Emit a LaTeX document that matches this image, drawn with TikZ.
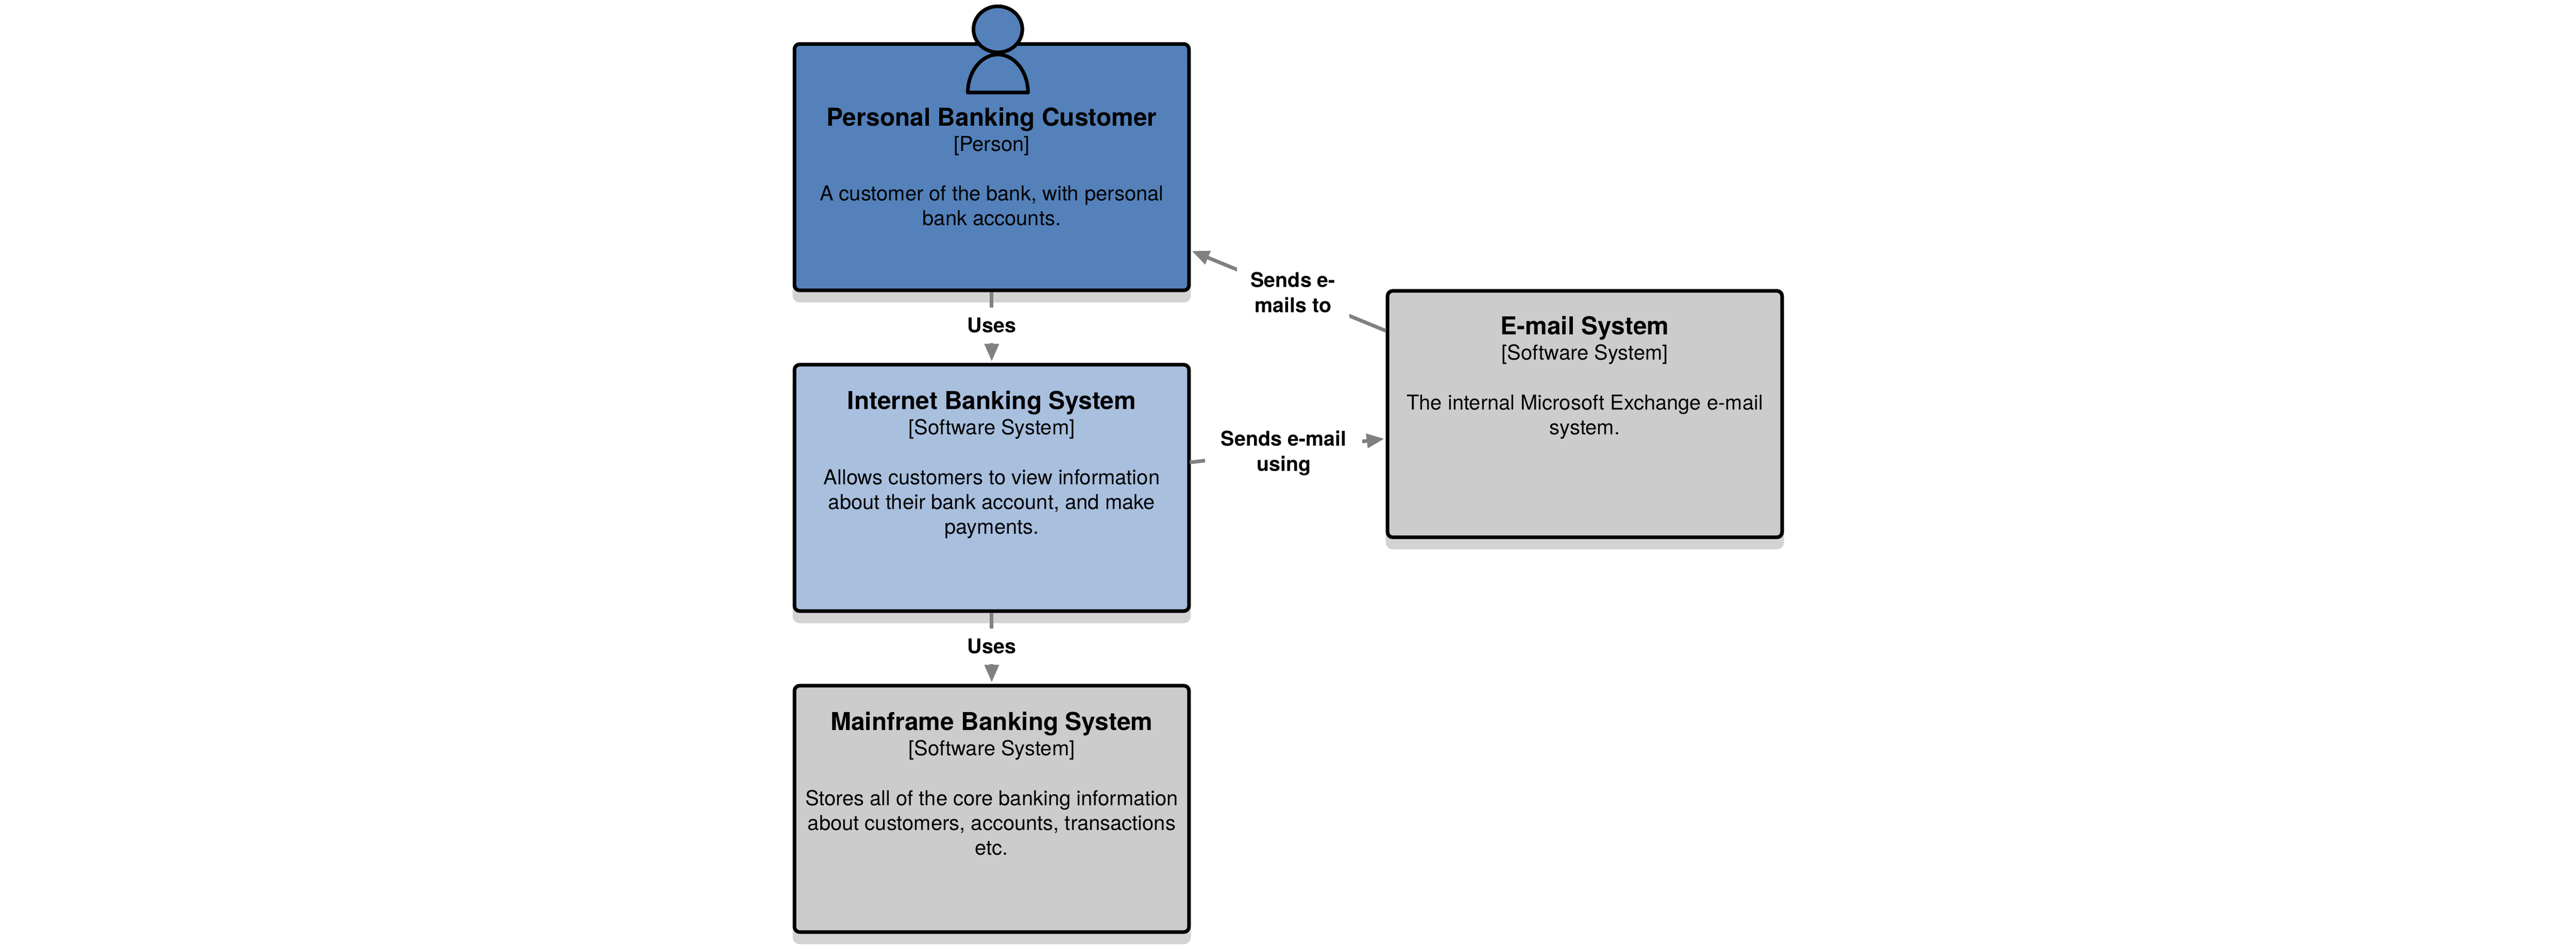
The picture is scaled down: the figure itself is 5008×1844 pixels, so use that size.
\documentclass[tikz,border=0pt]{standalone}
\usepackage{fontspec}
\setmainfont{TeX Gyre Heros}
\usetikzlibrary{arrows.meta,shadows}
\definecolor{personblue}{HTML}{5481BA}
\definecolor{internalblue}{HTML}{A9BFDE}
\definecolor{extgray}{HTML}{CCCCCC}
\definecolor{shadowgray}{HTML}{D3D3D3}
\definecolor{linkgray}{HTML}{808080}
\newcommand{\bxtext}[4]{\parbox[c][479pt][t]{767pt}{\centering\setlength{\parskip}{0pt}%
{\fontsize{48}{48}\bfseries\selectfont\rule{0pt}{#1pt}#2\par}%
{\fontsize{40}{49}\selectfont #3\par}%
\vspace{49pt}%
{\fontsize{40}{48}\selectfont #4\par}}}
\tikzset{
  x=1pt,y=-1pt,
  sysbox/.style={draw=black,line width=7pt,rounded corners=10pt,inner sep=0pt,
    minimum width=767pt,minimum height=479pt,text=black,
    general shadow={fill=shadowgray,draw=shadowgray,line width=7pt,shadow yshift=-20pt}},
  icon/.style={draw=black,line width=7pt,fill=personblue,line join=round},
  link/.style={draw=linkgray,line width=7pt,-{Triangle[length=34pt,width=27pt]}},
  linklabel/.style={fill=white,inner sep=0pt,align=center,text=black,
    font=\fontsize{39.5}{49}\bfseries\selectfont}
}
\begin{document}
\begin{tikzpicture}
\useasboundingbox[fill=white] (0,0) rectangle (5008,1844);
\node[sysbox,fill=personblue] (personal) at (1928,325) {\bxtext{159}{Personal Banking Customer}{[Person]}{A customer of the bank, with personal\\bank accounts.}};
\node[sysbox,fill=internalblue] (internet) at (1928,948.5) {\bxtext{87}{Internet Banking System}{[Software System]}{Allows customers to view information\\about their bank account, and make\\payments.}};
\node[sysbox,fill=extgray] (mainframe) at (1928,1572.5) {\bxtext{87}{Mainframe Banking System}{[Software System]}{Stores all of the core banking information\\about customers, accounts, transactions\\etc.}};
\node[sysbox,fill=extgray] (email) at (3081,805) {\bxtext{85}{E-mail System}{[Software System]}{The internal Microsoft Exchange e-mail\\system.}};
\draw[icon] (1881.5,180) .. controls (1881.5,139) and (1908,106) .. (1940,106) .. controls (1972,106) and (1998.5,139) .. (1998.5,180) -- cycle;
\draw[icon] (1940,57) ellipse [x radius=47.5,y radius=44.8];
\draw[link] (personal.south) -- node[linklabel,pos=.48,minimum width=120pt,minimum height=69pt] (l1) {Uses} ([yshift=3pt]internet.north);
\draw[link] (internet.south) -- node[linklabel,pos=.48,minimum width=120pt,minimum height=69pt] (l2) {Uses} ([yshift=3pt]mainframe.north);
\draw[link] ([yshift=162pt]email.west) -- node[linklabel,pos=.478,minimum width=218pt,minimum height=100pt] (l3) {Sends e-\\mails to} ([xshift=2pt,yshift=-163pt]personal.east);
\draw[link] ([xshift=-2pt,yshift=49.5pt]internet.east) -- node[linklabel,pos=.483,yshift=-4pt,minimum width=305pt,minimum height=100pt] (l4) {Sends e-mail\\using} ([xshift=-3pt,yshift=-48pt]email.west);
\end{tikzpicture}
\end{document}
